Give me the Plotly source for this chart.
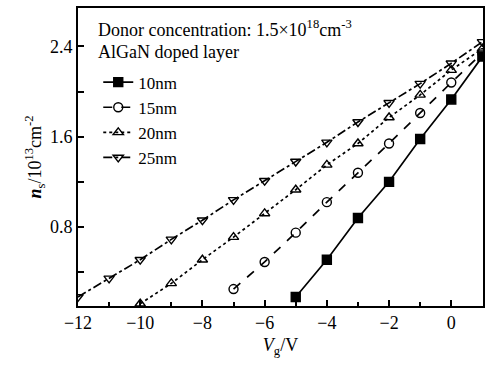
import plotly.graph_objects as go

vg = [-12, -11, -10, -9, -8, -7, -6, -5, -4, -3, -2, -1, 0, 1]

x_10 = [-5, -4, -3, -2, -1, 0, 1]
y_10 = [0.18, 0.51, 0.88, 1.20, 1.58, 1.93, 2.31]

x_15 = [-7, -6, -5, -4, -3, -2, -1, 0, 1]
y_15 = [0.25, 0.49, 0.75, 1.02, 1.28, 1.54, 1.81, 2.08, 2.34]

x_20 = [-10, -9, -8, -7, -6, -5, -4, -3, -2, -1, 0, 1]
y_20 = [0.12, 0.30, 0.51, 0.71, 0.92, 1.13, 1.35, 1.54, 1.77, 1.97, 2.19, 2.38]

x_25 = vg
y_25 = [0.18, 0.345, 0.51, 0.69, 0.86, 1.04, 1.21, 1.38, 1.55, 1.73, 1.90, 2.07, 2.25, 2.44]

names = ["10nm", "15nm", "20nm", "25nm"]
symbols = ["square", "circle-open", "triangle-up-open", "triangle-down-open"]
dashes = ["solid", "dash", "dot", "dashdot"]

FONT = "Liberation Serif"

fig = go.Figure()
for xs, ys, nm, sym, dsh in zip([x_10, x_15, x_20, x_25], [y_10, y_15, y_20, y_25], names, symbols, dashes):
    fig.add_trace(go.Scatter(
        x=xs, y=ys, name=nm, mode="lines+markers",
        line=dict(color="black", width=1.7, dash=dsh),
        marker=dict(symbol=sym, size=9, color="black", line=dict(color="black", width=1.4)),
    ))

fig.update_layout(
    width=485, height=365,
    margin=dict(l=78, r=0, t=8, b=59),
    plot_bgcolor="white", paper_bgcolor="white",
    font=dict(family=FONT, size=18, color="black"),
    showlegend=True,
    legend=dict(x=0.05, y=0.81, xanchor="left", yanchor="top",
                bgcolor="rgba(0,0,0,0)", font=dict(family=FONT, size=17),
                tracegroupgap=0, itemwidth=30),
    xaxis=dict(range=[-12, 1.02], tickvals=[-12, -10, -8, -6, -4, -2, 0],
               ticks="inside", ticklen=6, tickwidth=1.5, tickcolor="black",
               minor=dict(dtick=1, tick0=0, ticks="inside", ticklen=4, tickwidth=1.5, tickcolor="black"),
               showline=True, linecolor="black", linewidth=1.7, mirror=True,
               showgrid=False, zeroline=False,
               tickfont=dict(family=FONT, size=18),
               title=dict(text="<i>V</i><sub>g</sub>/V", font=dict(family=FONT, size=18), standoff=6)),
    yaxis=dict(range=[0.1, 2.74], tickvals=[0.8, 1.6, 2.4], ticktext=["0.8", "1.6", "2.4"],
               ticks="inside", ticklen=6, tickwidth=1.5, tickcolor="black",
               minor=dict(dtick=0.4, tick0=0, ticks="inside", ticklen=6, tickwidth=1.5, tickcolor="black"),
               showline=True, linecolor="black", linewidth=1.7, mirror=True,
               showgrid=False, zeroline=False,
               tickfont=dict(family=FONT, size=18),
               title=dict(text="<b><i>n</i></b><sub>s</sub>/10<sup>13</sup>cm<sup>-2</sup>", font=dict(family=FONT, size=18), standoff=4)),
    annotations=[
        dict(xref="paper", yref="paper", x=0.045, y=1 - (29 - 8) / 298, xanchor="left", yanchor="middle",
             text="Donor concentration: 1.5×10<sup>18</sup>cm<sup>-3</sup>", showarrow=False,
             font=dict(family=FONT, size=18)),
        dict(xref="paper", yref="paper", x=0.045, y=1 - (52 - 8) / 298, xanchor="left", yanchor="middle",
             text="AlGaN doped layer", showarrow=False, font=dict(family=FONT, size=18)),
    ],
)

fig.write_html("out.html")
